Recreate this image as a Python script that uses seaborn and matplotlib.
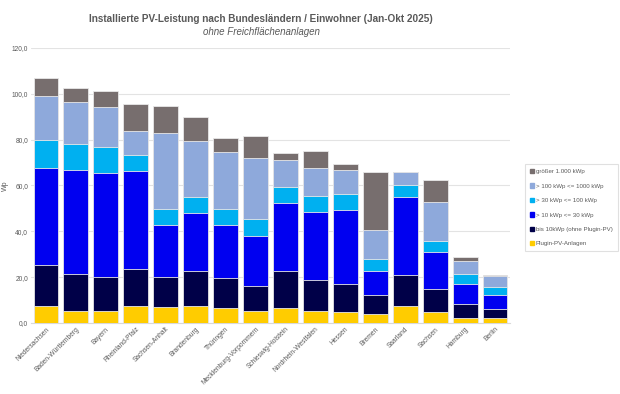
import matplotlib
matplotlib.use("Agg")
import matplotlib.pyplot as plt
import numpy as np
import pandas as pd
import seaborn as sns
from matplotlib.ticker import FuncFormatter

# Bundeslaender (sorted as in the chart)
laender = ["Niedersachsen", "Baden-Württemberg", "Bayern", "Rheinland-Pfalz",
           "Sachsen-Anhalt", "Brandenburg", "Thüringen", "Mecklenburg-Vorpommern",
           "Schleswig-Holstein", "Nordrhein-Westfalen", "Hessen", "Bremen",
           "Saarland", "Sachsen", "Hamburg", "Berlin"]

# Wp per Einwohner, per size class
plugin = [7.4, 5.2, 5.2, 7.4, 6.9, 7.4, 6.5, 5.2, 6.5, 5.2, 4.9, 3.8, 7.4, 4.9, 2.3, 2.3]
bis_10 = [17.9, 16.2, 14.8, 16.0, 13.1, 15.4, 13.2, 11.1, 16.1, 13.5, 12.0, 8.5, 13.6, 10.1, 6.1, 3.9]
kw_10_30 = [42.4, 45.4, 45.4, 43.0, 22.8, 25.2, 23.1, 21.6, 29.9, 29.6, 32.4, 10.4, 34.0, 15.8, 8.7, 6.1]
kw_30_100 = [12.0, 11.4, 11.5, 7.1, 6.8, 6.8, 7.1, 7.4, 6.8, 7.2, 6.8, 5.1, 5.0, 5.1, 4.3, 3.5]
kw_100_1000 = [19.5, 18.3, 17.4, 10.2, 33.1, 24.6, 24.6, 26.7, 11.7, 12.3, 10.6, 12.8, 5.8, 16.9, 5.6, 4.7]
gr_1000 = [7.5, 6.2, 6.8, 12.0, 11.9, 10.4, 6.3, 9.4, 3.3, 7.3, 2.7, 25.5, 0.0, 9.7, 1.9, 0.4]

series = ["Plugin-PV-Anlagen", "bis 10kWp (ohne Plugin-PV)", "> 10 kWp <= 30 kWp",
          "> 30 kWp <= 100 kWp", "> 100 kWp <= 1000 kWp", "größer 1.000 kWp"]
colors = ["#FFCC00", "#000048", "#0000F0", "#00B0F0", "#8EA9DB", "#776E6E"]

df = pd.DataFrame({"Land": laender})
for name, vals in zip(series, [plugin, bis_10, kw_10_30, kw_30_100, kw_100_1000, gr_1000]):
    df[name] = vals

sns.set_theme(style="white")
plt.rcParams["font.family"] = ["Liberation Sans", "DejaVu Sans"]

fig = plt.figure(figsize=(6.2, 3.94), dpi=100)
ax = fig.add_axes([31 / 620, 1 - 323 / 394, (510 - 31) / 620, (323 - 48) / 394])

# stacked bars drawn with seaborn, one layer per size class
bottom = np.zeros(len(df))
for name, col in zip(series, colors):
    sns.barplot(x=df["Land"], y=df[name] + bottom, color=col, saturation=1, width=0.83,
                edgecolor="#E8E8E8", linewidth=0.6, ax=ax, label=name)
    bottom = bottom + df[name].values
if ax.get_legend() is not None:
    ax.get_legend().remove()

# seaborn draws each layer from 0: taller cumulative layers sit behind
for i, cont in enumerate(ax.containers):
    for patch in cont:
        patch.set_zorder(10 - i)

ax.set_xlim(-0.5, 15.5)
ax.set_ylim(0, 120)
ax.set_yticks(np.arange(0, 121, 20))
ax.yaxis.set_major_formatter(FuncFormatter(lambda v, p: f"{v:.1f}".replace(".", ",")))
ax.grid(axis="y", color="#E3E3E3", linewidth=0.8, zorder=0)
ax.set_axisbelow(True)
for s in ["top", "right", "left"]:
    ax.spines[s].set_visible(False)
ax.spines["bottom"].set_color("#D9D9D9")
ax.spines["bottom"].set_linewidth(0.8)
ax.tick_params(axis="both", length=0, labelsize=4.8, colors="#595959", pad=2)
plt.setp(ax.get_xticklabels(), rotation=45, ha="right", rotation_mode="anchor")
ax.set_xlabel("")
ax.set_ylabel("Wp", fontsize=5, color="#595959", labelpad=2)

fig.text(261 / 620, 1 - 19 / 394, "Installierte PV-Leistung nach Bundesländern / Einwohner (Jan-Okt 2025)",
         ha="center", va="center", fontsize=7.2, fontweight="bold", color="#595959")
fig.text(261 / 620, 1 - 32 / 394, "ohne Freichflächenanlagen",
         ha="center", va="center", fontsize=7, style="italic", color="#595959")

handles = [plt.Rectangle((0, 0), 1, 1, color=c) for c in colors]
leg = fig.legend(handles[::-1], series[::-1], loc="upper left",
                 bbox_to_anchor=(525 / 620, 1 - 164 / 394),
                 fontsize=4.4, frameon=True, handlelength=0.7, handleheight=0.7,
                 handletextpad=0.3, labelspacing=1.5, borderpad=0.8,
                 borderaxespad=0, fancybox=False)
leg.get_frame().set_edgecolor("#D9D9D9")
leg.get_frame().set_linewidth(0.8)
for t in leg.get_texts():
    t.set_color("#595959")

fig.savefig("out.png", dpi=100)
